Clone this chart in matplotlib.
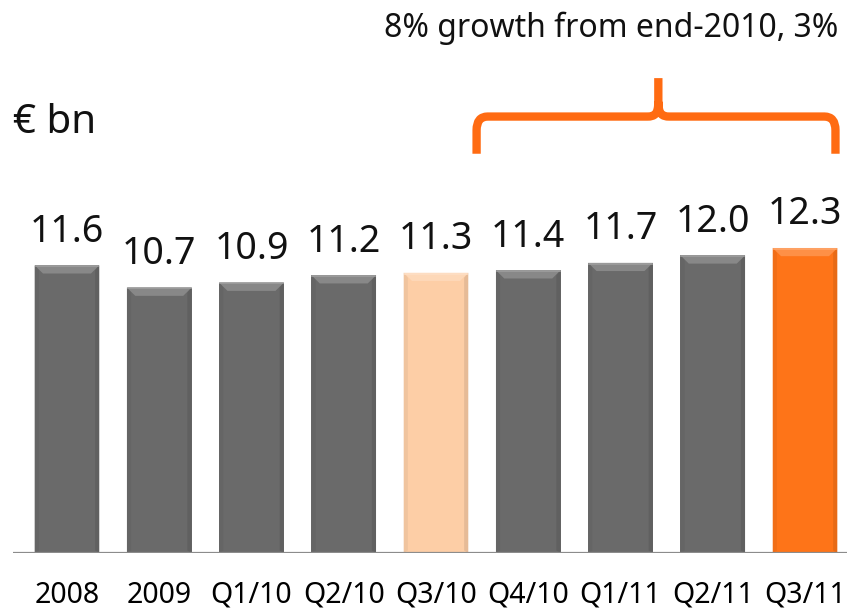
import matplotlib
matplotlib.use("Agg")
import matplotlib.pyplot as plt
from matplotlib.patches import Polygon, PathPatch
from matplotlib.path import Path
import matplotlib.colors as mcolors

# Data
categories = ["2008", "2009", "Q1/10", "Q2/10", "Q3/10", "Q4/10", "Q1/11", "Q2/11", "Q3/11"]
values = [11.6, 10.7, 10.9, 11.2, 11.3, 11.4, 11.7, 12.0, 12.3]
bar_colors = ["#6a6a6a", "#6a6a6a", "#6a6a6a", "#6a6a6a", "#fdcea6",
              "#6a6a6a", "#6a6a6a", "#6a6a6a", "#fe7418"]
unit_label = "€ bn"
growth_note = "8% growth from end-2010, 3%"

FONT = ["Noto Sans", "DejaVu Sans"]

fig = plt.figure(figsize=(8.47, 6.11), dpi=100)
ax = fig.add_axes([13 / 847, 1 - 553 / 611, 1 - 13 / 847, 553 / 611])

x = list(range(len(categories)))
width = 0.70
ax.bar(x, values, width=width, color=bar_colors, edgecolor="none", zorder=2)

ax.set_xlim(-0.585, 8.455)
ax.set_ylim(0, 22.3)
# bevel sizes in data units
bx = 0.09
by = 0.33


def shade(c, f):
    r, g, b = mcolors.to_rgb(c)
    if f > 0:
        return (r + (1 - r) * f, g + (1 - g) * f, b + (1 - b) * f)
    return (r * (1 + f), g * (1 + f), b * (1 + f))


for xi, v, c in zip(x, values, bar_colors):
    l, r = xi - width / 2, xi + width / 2
    top = [(l, v), (r, v), (r - bx, v - by), (l + bx, v - by)]
    ax.add_patch(Polygon(top, closed=True, facecolor=shade(c, 0.20), edgecolor="none", zorder=3))
    # thin bright rim along the top edge
    ax.plot([l + 0.01, r - 0.01], [v - 0.03, v - 0.03], color=shade(c, 0.35), lw=1.2, zorder=4)
    left = [(l, v), (l + bx * 0.5, v - by * 0.6), (l + bx * 0.5, 0.1), (l, 0)]
    ax.add_patch(Polygon(left, closed=True, facecolor=shade(c, -0.05), edgecolor="none", zorder=3))
    right = [(r, v), (r - bx * 0.5, v - by * 0.6), (r - bx * 0.5, 0.1), (r, 0)]
    ax.add_patch(Polygon(right, closed=True, facecolor=shade(c, -0.09), edgecolor="none", zorder=3))
    ax.annotate(f"{v:.1f}", (xi, v), xytext=(0, 17), textcoords="offset points",
                ha="center", va="baseline", fontsize=27, family=FONT, color="#111111")

# baseline
ax.axhline(0, color="#8c8c8c", lw=1.6, zorder=5)

for s in ax.spines.values():
    s.set_visible(False)
ax.set_yticks([])
ax.set_xticks(x)
ax.set_xticklabels(categories, fontsize=20.5, family=["Liberation Sans Narrow", "Noto Sans", "DejaVu Sans"])
ax.tick_params(axis="x", length=0, pad=20)

# curly bracket over the 2011 period
xl, xr, xc = 4.44, 8.33, 6.41
yb, yh, yp = 16.1, 17.6, 19.15
rx, ry = 0.12, 0.55
verts = [
    (xl, yb), (xl, yh - ry), (xl, yh), (xl + rx, yh),
    (xc - rx, yh), (xc - 0.04, yh), (xc, yh + 0.1), (xc, yh + 0.6),
    (xc, yp),
    (xc, yh + 0.6), (xc, yh + 0.1), (xc + 0.04, yh), (xc + rx, yh),
    (xr - rx, yh), (xr, yh), (xr, yh - ry), (xr, yb),
]
codes = [Path.MOVETO, Path.LINETO, Path.CURVE3, Path.CURVE3,
         Path.LINETO, Path.CURVE4, Path.CURVE4, Path.CURVE4,
         Path.LINETO,
         Path.MOVETO, Path.CURVE4, Path.CURVE4, Path.CURVE4,
         Path.LINETO, Path.CURVE3, Path.CURVE3, Path.LINETO]
ax.add_patch(PathPatch(Path(verts, codes), facecolor="none", edgecolor="#ff6b12",
                       lw=6, capstyle="butt", joinstyle="round", zorder=5))

fig.text(838 / 847, 1 - 28 / 611, growth_note, ha="right", va="center",
         fontsize=23, family=FONT, color="#111111")
fig.text(13 / 847, 1 - 133 / 611, unit_label, ha="left", va="baseline",
         fontsize=29, family=FONT, color="#111111")

fig.savefig("out.png", dpi=100)
